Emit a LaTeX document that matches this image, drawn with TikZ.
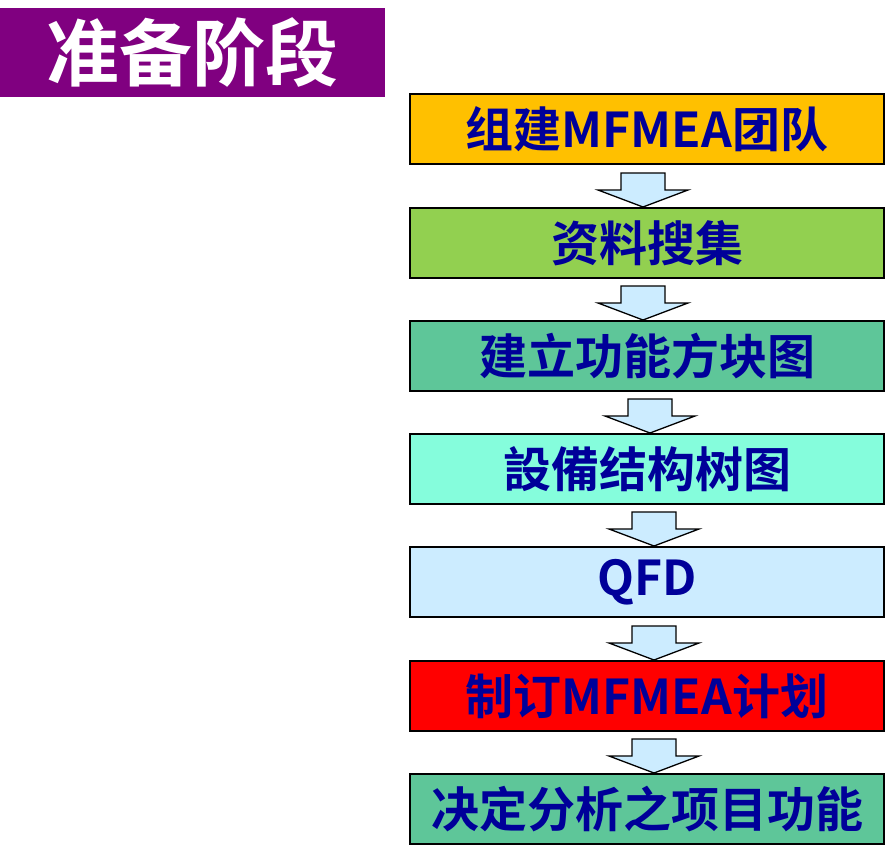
\documentclass[tikz,border=0pt]{standalone}
\usepackage{fontspec}
\newfontfamily\cjk{Noto Sans CJK SC}[BoldFont={Noto Sans CJK SC Bold}]

\definecolor{titlepurple}{HTML}{800080}
\definecolor{boxtext}{HTML}{000099}
\definecolor{arrowblue}{HTML}{CCECFF}
\definecolor{teamyellow}{HTML}{FFC000}
\definecolor{datagreen}{HTML}{92D050}
\definecolor{blockgreen}{HTML}{5EC699}
\definecolor{treeaqua}{HTML}{85FDDC}
\definecolor{qfdblue}{HTML}{CCECFF}
\definecolor{planred}{HTML}{FF0000}

\begin{document}
\begin{tikzpicture}[x=1pt,y=-1pt,
  stepbox/.style={draw=black, line width=2pt, minimum width=474pt, minimum height=70pt,
    inner sep=0pt, anchor=north west, text=boxtext, font=\cjk\bfseries\fontsize{48}{52}\selectfont},
  flowarrow/.style={draw=black, line width=1.3pt, fill=arrowblue, line join=miter}]
  \useasboundingbox (0,0) rectangle (896,846);

  % title
  \node[fill=titlepurple, minimum width=385pt, minimum height=89pt, inner sep=0pt,
    anchor=north west, text=white, font=\cjk\bfseries\fontsize{73}{76}\selectfont]
    (title) at (0,8) {准备阶段};

  % steps
  \node[stepbox, fill=teamyellow] (b1) at (409,93)  {组建MFMEA团队};
  \node[stepbox, fill=datagreen]  (b2) at (409,207) {资料搜集};
  \node[stepbox, fill=blockgreen] (b3) at (409,320) {建立功能方块图};
  \node[stepbox, fill=treeaqua]   (b4) at (409,433) {設備结构树图};
  \node[stepbox, fill=qfdblue]    (b5) at (409,546) {QFD};
  \node[stepbox, fill=planred]    (b6) at (409,660) {制订MFMEA计划};
  \node[stepbox, fill=blockgreen] (b7) at (409,773) {决定分析之项目功能};

  % block arrows
  \foreach \l/\dx in {b2/-4, b3/-4, b4/3, b5/7, b6/7, b7/7}
    \draw[flowarrow] ([xshift=\dx pt]\l.north) -- ++(-45,-17) -- ++(23,0) -- ++(0,-17)
      -- ++(44,0) -- ++(0,17) -- ++(23,0) -- cycle;
\end{tikzpicture}
\end{document}
